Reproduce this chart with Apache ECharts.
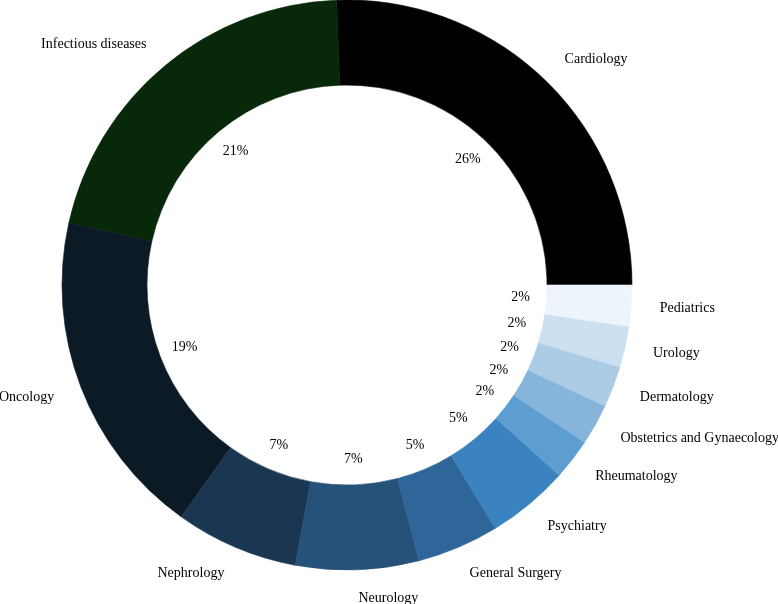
<!DOCTYPE html>
<html>
<head>
<meta charset="utf-8">
<script src="https://cdn.jsdelivr.net/npm/echarts@6/dist/echarts.min.js"></script>
<style>html,body{margin:0;padding:0;background:#fff}#c{width:778px;height:604px}</style>
</head>
<body>
<div id="c"></div>
<script>
const categories = ["Cardiology","Infectious diseases","Oncology","Nephrology","Neurology","General Surgery","Psychiatry","Rheumatology","Obstetrics and Gynaecology","Dermatology","Urology","Pediatrics"];
const counts = [11, 9, 8, 3, 3, 2, 2, 1, 1, 1, 1, 1];
const colors = ["#000000","#08280a","#0c1a26","#1b3651","#26527a","#2f6699","#3a82c0","#5e9dd0","#87b4da","#acCBe5","#cde0f0","#edf4fb"];

const total = counts.reduce((a,b)=>a+b,0);
const data = categories.map((n,i)=>({name:n, value:counts[i], itemStyle:{color:colors[i], borderColor:colors[i], borderWidth:0.6}}));
const FONT = '"Liberation Serif","Times New Roman",serif';
const R = 285, r0 = 200;
const chart = echarts.init(document.getElementById('c'), null, {renderer:'canvas'});
chart.setOption({
  animation:false,
  backgroundColor:'#ffffff',
  series:[
    {
      type:'pie',
      center:[347,285],
      radius:[r0, R],
      startAngle:0,
      clockwise:false,
      avoidLabelOverlap:false,
      silent:true,
      label:{show:true, position:'outside', formatter:'{b}', color:'#000', fontFamily:FONT, fontSize:14, distanceToLabelLine:0},
      labelLine:{show:false, length:R*0.1, length2:0},
      data:data
    },
    {
      type:'pie',
      center:[347,285],
      radius:[0, R*1.2],
      startAngle:0,
      clockwise:false,
      avoidLabelOverlap:false,
      silent:true,
      z:5,
      itemStyle:{color:'rgba(0,0,0,0)', borderWidth:0},
      label:{show:true, position:'inside', formatter:p=>Math.round(p.value/total*100)+'%', color:'#000', fontFamily:FONT, fontSize:14},
      labelLine:{show:false},
      data:categories.map((n,i)=>({name:n, value:counts[i]}))
    }
  ]
});
</script>
</body>
</html>
